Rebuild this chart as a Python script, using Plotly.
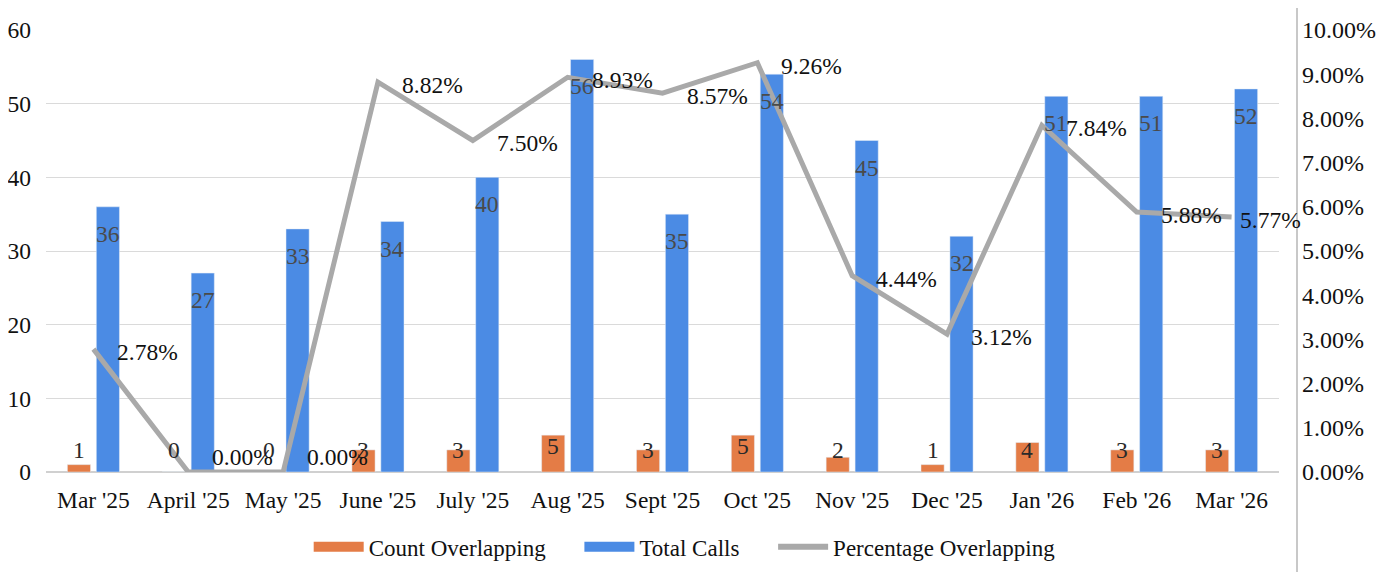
import plotly.graph_objects as go

months = ["Mar '25", "April '25", "May '25", "June '25", "July '25", "Aug '25", "Sept '25",
          "Oct '25", "Nov '25", "Dec '25", "Jan '26", "Feb '26", "Mar '26"]
count_overlapping = [1, 0, 0, 3, 3, 5, 3, 5, 2, 1, 4, 3, 3]
total_calls = [36, 27, 33, 34, 40, 56, 35, 54, 45, 32, 51, 51, 52]
pct_overlapping = [0.0278, 0.0, 0.0, 0.0882, 0.0750, 0.0893, 0.0857, 0.0926,
                   0.0444, 0.0312, 0.0784, 0.0588, 0.0577]
left_ticks = [0, 10, 20, 30, 40, 50, 60]
right_ticks = [i / 100 for i in range(0, 11)]

FONT = "Liberation Serif, Times New Roman, serif"
ORANGE = "#E47C46"
BLUE = "#4B8BE4"
GRAY = "#A9A9A9"
FS = 23.5

# the page body adds an 8px offset; compensate so the plot lands where the original is
OFF = 8
W, H = 1392, 572
ML, MR, MT, MB = 46 - OFF, 113 + OFF, 30 - OFF, 97 + OFF
BARGAP, BARGROUPGAP = 0.39, 0.2
plot_w = W - ML - MR
plot_h = H - MT - MB
cat_w = plot_w / len(months)
slot = cat_w * (1 - BARGAP) / 2
px_per_unit = plot_h / 60
px_per_unit2 = plot_h / 0.1
NB = "\u00a0" * 5

fig = go.Figure()
fig.add_trace(go.Bar(
    x=months, y=count_overlapping, name="Count Overlapping",
    marker=dict(color=ORANGE), showlegend=False,
))
fig.add_trace(go.Bar(
    x=months, y=total_calls, name="Total Calls",
    marker=dict(color=BLUE), showlegend=False,
))
fig.add_trace(go.Scatter(
    x=months, y=pct_overlapping, name="Percentage Overlapping", yaxis="y2",
    mode="lines", line=dict(color=GRAY, width=5), showlegend=False,
))

# legend proxies (wide swatches like the original)
fig.add_trace(go.Scatter(x=[None], y=[None], mode="lines", name="Count Overlapping" + NB,
                         line=dict(color=ORANGE, width=12)))
fig.add_trace(go.Scatter(x=[None], y=[None], mode="lines", name="Total Calls" + NB,
                         line=dict(color=BLUE, width=12)))
fig.add_trace(go.Scatter(x=[None], y=[None], mode="lines", name="Percentage Overlapping",
                         line=dict(color=GRAY, width=6)))

annotations = []
# count labels: "inside end", pushed up when the bar is too short for the text
for m, v in zip(months, count_overlapping):
    ylab = max(v - 11 / px_per_unit, 22 / px_per_unit)
    annotations.append(dict(x=m, y=ylab, xref="x", yref="y", text=str(v), showarrow=False,
                            xanchor="center", yanchor="middle", xshift=-slot / 2,
                            font=dict(color="#2a2a2a", size=FS, family=FONT)))
for m, v in zip(months, total_calls):
    annotations.append(dict(x=m, y=v, xref="x", yref="y", text=str(v), showarrow=False,
                            xanchor="center", yanchor="middle", xshift=slot / 2, yshift=-27,
                            font=dict(color="#4a4a4a", size=FS, family=FONT)))
# percentage labels to the right of each point, kept inside the chart area
LABEL_W = 62
for i, (m, p) in enumerate(zip(months, pct_overlapping)):
    point_x = ML + (i + 0.5) * cat_w
    xs = min(22, ML + plot_w + 21 - LABEL_W - point_x)
    ylab = max(p - 3 / px_per_unit2, 15 / px_per_unit2)
    annotations.append(dict(x=m, y=ylab, xref="x", yref="y2", text=f"{p * 100:.2f}%",
                            showarrow=False, xanchor="left", yanchor="middle", xshift=xs,
                            font=dict(color="#111111", size=FS, family=FONT)))

fig.update_layout(
    width=W, height=H,
    margin=dict(l=ML, r=MR, t=MT, b=MB),
    paper_bgcolor="white", plot_bgcolor="white",
    font=dict(family=FONT, size=FS, color="#111111"),
    barmode="group", bargap=BARGAP, bargroupgap=BARGROUPGAP,
    xaxis=dict(range=[-0.5, len(months) - 0.5], showgrid=False, showline=False, ticks="",
               tickfont=dict(size=FS), ticklabelstandoff=11, automargin=False),
    yaxis=dict(range=[0, 60], tickvals=left_ticks, showgrid=True, gridcolor="#DADADA",
               gridwidth=1, zeroline=True, zerolinecolor="#D0D0D0", showline=False,
               tickfont=dict(size=FS), ticklabelstandoff=14, automargin=False),
    yaxis2=dict(range=[0, 0.1], tickvals=right_ticks, tickformat=".2%", overlaying="y",
                side="right", showgrid=False, zeroline=False, showline=False,
                tickfont=dict(size=24), ticklabelstandoff=22, automargin=False),
    legend=dict(orientation="h", x=0.518, xanchor="center", y=-0.169, yanchor="middle",
                font=dict(size=23), traceorder="normal", itemwidth=50),
    annotations=annotations,
    shapes=[dict(type="line", xref="paper", yref="paper", x0=1.0146, x1=1.0146,
                 y0=-0.25, y1=1.07, line=dict(color="#C8C8C8", width=2))],
)

fig.write_html("out.html")
